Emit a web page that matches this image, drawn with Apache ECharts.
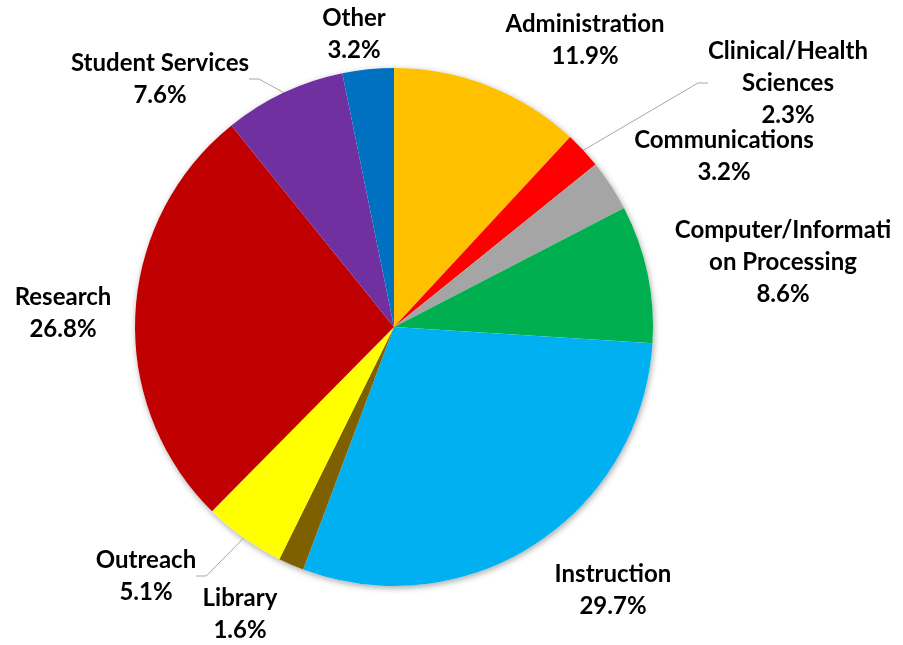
<!DOCTYPE html>
<html>
<head>
<meta charset="utf-8">
<script src="https://cdn.jsdelivr.net/npm/echarts@6/dist/echarts.min.js"></script>
<style>html,body{margin:0;padding:0;background:#fff}#c{width:903px;height:645px}</style>
</head>
<body>
<div id="c"></div>
<script>
const categories = ['Administration','Clinical/Health Sciences','Communications','Computer/Information Processing','Instruction','Library','Outreach','Research','Student Services','Other'];
const values = [11.9, 2.3, 3.2, 8.6, 29.7, 1.6, 5.1, 26.8, 7.6, 3.2];
const labelTexts = ['Administration','Clinical/Health\nSciences','Communications','Computer/Informati\non Processing','Instruction','Library','Outreach','Research','Student Services','Other'];
const colors = ['#FFC000','#FF0000','#A5A5A5','#00B050','#00B0F0','#7F6000','#FFFF00','#C00000','#7030A0','#0070C0'];
const withLine = [false,true,false,false,false,false,true,false,true,false];
const labelPos = [[585,40],[788,83],[724,156],[783,262],[613,590],[240,614],[146,576],[63,313],[160,79],[354,34]];

const chart = echarts.init(document.getElementById('c'), null, {renderer:'canvas'});
const data = categories.map((n,i)=>({
  name:n, value:values[i],
  itemStyle:{color:colors[i]},
  labelLine:{show:withLine[i]}
}));
chart.setOption({
  animation:false,
  series:[
    {type:'pie', silent:true, center:[394,327], radius:259, z:1,
     label:{show:false}, labelLine:{show:false},
     itemStyle:{color:'#fff', shadowBlur:6, shadowColor:'rgba(0,0,0,0.35)', shadowOffsetX:1, shadowOffsetY:2},
     data:[{value:1,name:''}]},
    {type:'pie', z:2, center:[394,327], radius:259, startAngle:90, clockwise:true,
     avoidLabelOverlap:false,
     itemStyle:{borderWidth:0},
     label:{show:true, position:'outside', color:'#000', fontFamily:'Lato', fontWeight:'bold', fontSize:24, lineHeight:32, align:'center',
       formatter:p=>labelTexts[p.dataIndex]+'\n'+p.value.toFixed(1)+'%'},
     labelLine:{lineStyle:{color:'#A6A6A6', width:1}, length:10, length2:10},
     labelLayout:function(p){const q=labelPos[p.dataIndex];return {x:q[0], y:q[1], align:'center', verticalAlign:'middle'};},
     data:data}
  ]
});
</script>
</body>
</html>
